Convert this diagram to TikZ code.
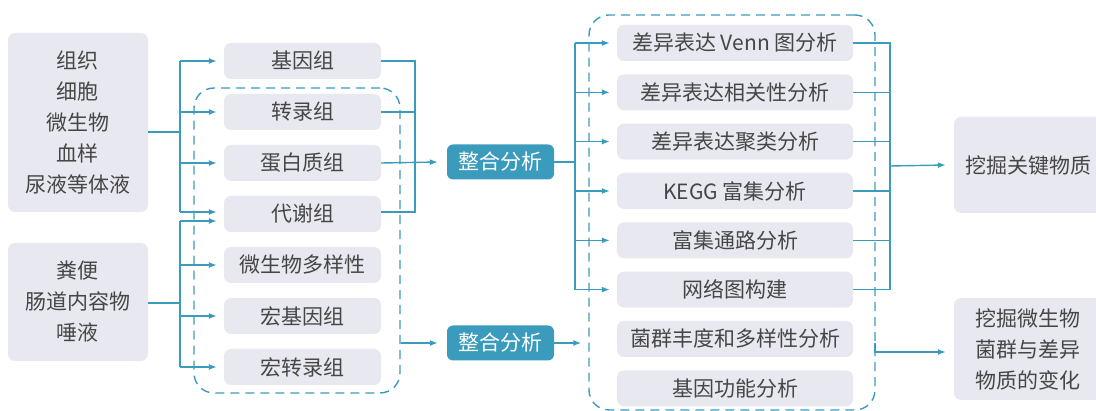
\documentclass[tikz,border=0pt]{standalone}
\usepackage{fontspec}
\setmainfont{Noto Sans CJK SC}
\usetikzlibrary{arrows.meta,calc}
\definecolor{boxfill}{RGB}{232,233,240}
\definecolor{tealc}{RGB}{58,155,188}
\definecolor{txt}{RGB}{70,70,70}
\begin{document}
\begin{tikzpicture}[x=1pt,y=-1pt,
  box/.style={fill=boxfill, rounded corners=7pt, text=txt, font=\fontsize{21}{31}\selectfont, inner sep=0pt, align=center},
  mid/.style={box, minimum width=157pt, minimum height=36pt},
  rbox/.style={box, minimum width=236pt, minimum height=36pt},
  intbox/.style={fill=tealc, rounded corners=6pt, text=white, font=\fontsize{21}{25}\selectfont, inner sep=0pt, minimum width=107pt, minimum height=35pt},
  ln/.style={draw=tealc, line width=1.4pt},
  arr/.style={ln, -{Latex[length=8pt,width=6pt]}},
  dashbox/.style={draw=tealc, line width=1.4pt, dash pattern=on 9pt off 6pt, rounded corners=20pt, inner sep=0pt},
]
\useasboundingbox (0,0) rectangle (1096,411);

% dashed groups
\node[dashbox, minimum width=206pt, minimum height=305pt] (g1) at (297,240.5) {};
\node[dashbox, minimum width=286pt, minimum height=395pt] (g2) at (732,212.5) {};

% sources
\node[box, minimum width=140pt, minimum height=179pt] (s1) at (78,122.5) {组织\\细胞\\微生物\\血样\\尿液等体液};
\node[box, minimum width=140pt, minimum height=118pt] (s2) at (78,302) {粪便\\肠道内容物\\唾液};

% omics
\node[mid] (m1) at (302.5,61) {基因组};
\node[mid] (m2) at (302.5,112) {转录组};
\node[mid] (m3) at (302.5,163) {蛋白质组};
\node[mid] (m4) at (302.5,214) {代谢组};
\node[mid] (m5) at (302.5,265) {微生物多样性};
\node[mid] (m6) at (302.5,316) {宏基因组};
\node[mid] (m7) at (302.5,367) {宏转录组};

% integration
\node[intbox] (i1) at (500.5,162) {整合分析};
\node[intbox] (i2) at (500.5,343) {整合分析};

% analyses
\node[rbox] (r1) at (735,43) {差异表达 Venn 图分析};
\node[rbox] (r2) at (735,92.3) {差异表达相关性分析};
\node[rbox] (r3) at (735,141.6) {差异表达聚类分析};
\node[rbox] (r4) at (735,191) {KEGG 富集分析};
\node[rbox] (r5) at (735,240.3) {富集通路分析};
\node[rbox] (r6) at (735,289.6) {网络图构建};
\node[rbox] (r7) at (735,339) {菌群丰度和多样性分析};
\node[rbox] (r8) at (735,388.3) {基因功能分析};

% outcomes
\node[box, minimum width=148pt, minimum height=96pt] (k1) at (1028,165) {挖掘关键物质};
\node[box, minimum width=148pt, minimum height=102pt] (k2) at (1028,349) {挖掘微生物\\菌群与差异\\物质的变化};

% junction coordinates
\coordinate (ja) at (180,132);
\coordinate (jb) at (180,303);
\coordinate (jc) at (415,163);
\coordinate (jd) at (575,162);
\coordinate (je) at (890,166);
\coordinate (jf) at (875,343);

% sources to omics
\draw[ln] (s1.east |- ja) -- (ja);
\draw[ln] (180,61) -- (180,212);
\draw[arr] (180,61) -- ([xshift=-7pt]m1.west);
\draw[arr] (180,112) -- ([xshift=-7pt]m2.west);
\draw[arr] (180,163) -- ([xshift=-7pt]m3.west);
\draw[arr] (180,212) -- ([xshift=-7pt,yshift=2pt]m4.west);

\draw[ln] (s2.east |- jb) -- (jb);
\draw[ln] (180,221) -- (180,367);
\draw[arr] (180,221) -- ([xshift=-7pt,yshift=-7pt]m4.west);
\draw[arr] (180,265) -- ([xshift=-7pt]m5.west);
\draw[arr] (180,316) -- ([xshift=-7pt]m6.west);
\draw[arr] (180,367) -- ([xshift=-7pt]m7.west);

% omics to integration 1
\draw[ln] (m1.east) -- (m1.east -| jc) -- ([yshift=2pt]m4.east -| jc) -- ([yshift=2pt]m4.east);
\draw[ln] (m2.east) -- (m2.east -| jc);
\draw[arr] (m3.east) -- ([xshift=-9pt]i1.west);

% group to integration 2
\draw[arr] (g1.east |- i2.west) -- ([xshift=-9pt]i2.west);

% integration 1 to analyses
\draw[ln] (i1.east) -- (jd);
\draw[ln] (r1.west -| jd) -- (r6.west -| jd);
\draw[arr] (r1.west -| jd) -- ([xshift=-7pt]r1.west);
\draw[arr] (r2.west -| jd) -- ([xshift=-7pt]r2.west);
\draw[arr] (r3.west -| jd) -- ([xshift=-7pt]r3.west);
\draw[arr] (r4.west -| jd) -- ([xshift=-7pt]r4.west);
\draw[arr] (r5.west -| jd) -- ([xshift=-7pt]r5.west);
\draw[arr] (r6.west -| jd) -- ([xshift=-7pt]r6.west);

% integration 2 to group
\draw[arr] (i2.east) -- ($(g2.west |- i2.east)+(-7,0)$);

% analyses to outcome 1
\draw[ln] (r1.east) -- (r1.east -| je) -- (r6.east -| je) -- (r6.east);
\draw[ln] (r2.east) -- (r2.east -| je);
\draw[ln] (r3.east) -- (r3.east -| je);
\draw[ln] (r4.east) -- (r4.east -| je);
\draw[ln] (r5.east) -- (r5.east -| je);
\draw[arr] (je) -- ([xshift=-8pt]k1.west);

% group to outcome 2
\draw[arr] (jf) |- ($(k2.west)+(-8,3)$);
\end{tikzpicture}
\end{document}
